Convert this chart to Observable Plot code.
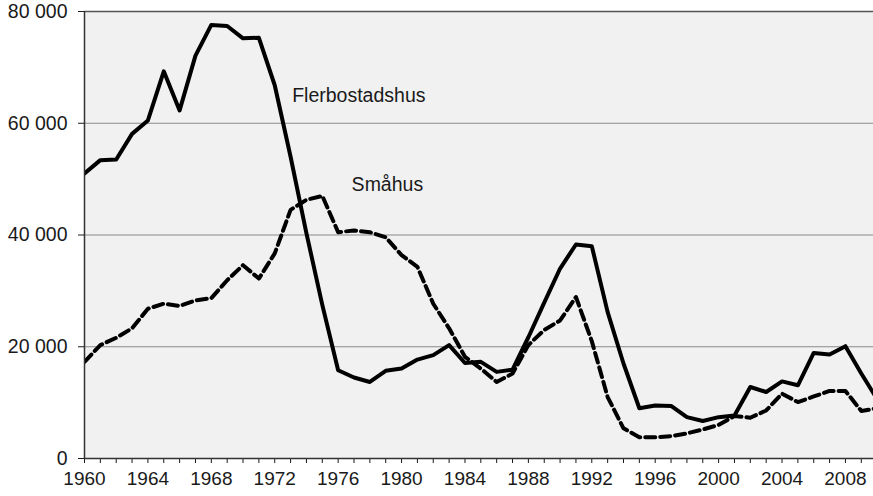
<!DOCTYPE html>
<html>
<head>
<meta charset="utf-8">
<script src="https://cdn.jsdelivr.net/npm/d3@7"></script>
<script src="https://cdn.jsdelivr.net/npm/@observablehq/plot@0.6"></script>
<style>
  html, body { margin: 0; padding: 0; background: #fff; overflow: hidden; }
  #chart svg { display: block; font-family: Arial, "Liberation Sans", sans-serif; }
</style>
</head>
<body>
<div id="chart"></div>
<script>
const years = [1960,1961,1962,1963,1964,1965,1966,1967,1968,1969,
  1970,1971,1972,1973,1974,1975,1976,1977,1978,1979,
  1980,1981,1982,1983,1984,1985,1986,1987,1988,1989,
  1990,1991,1992,1993,1994,1995,1996,1997,1998,1999,
  2000,2001,2002,2003,2004,2005,2006,2007,2008,2009,2010];

const flerbostadshus = [51000,53400,53500,58100,60500,69300,62300,72100,77600,77400,
  75200,75300,66800,54000,40300,27500,15800,14500,13700,15700,
  16100,17700,18500,20300,17100,17300,15500,15900,21700,27900,
  34000,38300,38000,26200,17000,9000,9500,9400,7400,6700,
  7400,7700,12800,11900,13800,13100,18900,18600,20100,15200,10600];

const smahus = [17300,20300,21600,23300,26800,27700,27300,28300,28700,31900,
  34600,32200,36700,44500,46300,47000,40500,40800,40500,39600,
  36400,34300,27700,23300,18200,16100,13700,15200,20300,23000,
  24700,28900,21000,11000,5400,3800,3800,4000,4500,5200,
  6000,7600,7300,8600,11600,10100,11100,12100,12100,8500,9000];

const yTicks = [0, 20000, 40000, 60000, 80000];
const xTickYears = years.filter(y => y < 2010);

const seriesLabels = ["Flerbostadshus", "Småhus"];
const labelYears = [1973.1, 1976.85];
const labelValues = [65000, 49000];

const fler = years.map((y, i) => ({year: y, value: flerbostadshus[i]}));
const sma = years.map((y, i) => ({year: y, value: smahus[i]}));
const labels = seriesLabels.map((t, i) => ({text: t, year: labelYears[i], value: labelValues[i]}));

const fmtY = d => d3.format(",")(d).replace(/,/g, " ");

const chart = Plot.plot({
  width: 873,
  height: 496,
  marginLeft: 84,
  marginRight: 0,
  marginTop: 11,
  marginBottom: 38,
  style: {fontFamily: "Arial, 'Liberation Sans', sans-serif", fontSize: "19px", color: "#1a1a1a", background: "#fff"},
  x: {domain: [1960, 2009.77]},
  y: {domain: [0, 80000]},
  marks: [
    Plot.frame({fill: "#f1f1f1", stroke: null}),
    Plot.ruleY([20000, 40000, 60000], {stroke: "#8a8a8a", strokeWidth: 1.2}),
    Plot.ruleY([80000], {stroke: "#555", strokeWidth: 1.5}),
    Plot.axisY({ticks: yTicks, tickFormat: fmtY, tickSize: 6, tickPadding: 11, label: null, fontSize: 19.5}),
    Plot.axisX({ticks: xTickYears, tickFormat: d => (d % 4 === 0 ? String(d) : ""), tickSize: 5, tickPadding: 8, label: null, fontSize: 19}),
    Plot.line(sma, {x: "year", y: "value", stroke: "#000", strokeWidth: 4, strokeDasharray: "10,5", strokeLinejoin: "round", clip: true}),
    Plot.line(fler, {x: "year", y: "value", stroke: "#000", strokeWidth: 4, strokeLinejoin: "round", clip: true}),
    Plot.ruleX([1960], {stroke: "#333", strokeWidth: 1.5}),
    Plot.ruleY([0], {stroke: "#333", strokeWidth: 1.5}),
    Plot.text(labels, {x: "year", y: "value", text: "text", textAnchor: "start", fontSize: 19.5, fill: "#1a1a1a"})
  ]
});
document.getElementById("chart").appendChild(chart);
</script>
</body>
</html>
